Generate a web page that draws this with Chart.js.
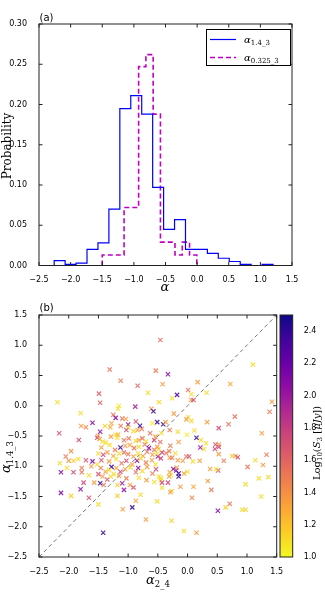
<!DOCTYPE html>
<html>
<head>
<meta charset="utf-8">
<script src="https://cdn.jsdelivr.net/npm/chart.js@4.4.1/dist/chart.umd.min.js"></script>
<style>
  html, body { margin: 0; padding: 0; background: #fff; }
  #wrap { position: relative; width: 325px; height: 600px; overflow: hidden; }
  canvas { position: absolute; }
</style>
</head>
<body>
<div id="wrap">
  <canvas id="histChart" width="325" height="300" style="left:0;top:0"></canvas>
  <canvas id="scatChart" width="325" height="300" style="left:0;top:300px"></canvas>
  <canvas id="cbarChart" width="55" height="300" style="left:270px;top:300px"></canvas>
</div>
<script>
// (a) histograms: bin edges and probability per bin
const edges14 = [-2.26, -2.087, -1.914, -1.741, -1.568, -1.395, -1.222, -1.049, -0.876, -0.703, -0.53,
                 -0.357, -0.184, -0.011, 0.162, 0.335, 0.508, 0.681, 0.854, 1.027, 1.2];
const prob14 = [0.006, 0.0015, 0.003, 0.020, 0.028, 0.070, 0.195, 0.211, 0.188, 0.097,
                0.045, 0.057, 0.020, 0.020, 0.015, 0.009, 0.005, 0.0015, 0, 0.0015];
const edges0325 = [-1.5, -1.385, -1.27, -1.155, -1.04, -0.925, -0.81, -0.695, -0.58, -0.465, -0.35, -0.235, -0.12, -0.005];
const prob0325 = [0.013, 0.013, 0.013, 0.072, 0.072, 0.247, 0.262, 0.188, 0.029, 0.029, 0.013, 0.029, 0.013];
const alphaTicks = [-2.5, -2.0, -1.5, -1.0, -0.5, 0.0, 0.5, 1.0, 1.5];
const probTicks = [0, 0.05, 0.10, 0.15, 0.20, 0.25, 0.30];

// (b) scatter: alpha_2_4 (x), alpha_1.4_3 (y), log10 S3 (colour)
const alpha24 = [
  -1.31, -1.125, -0.535, -0.84, -1.49, -1.47, -0.665, -2.19, -1.80, -1.155, -1.17, -0.88, -1.25, -1.21,
  -1.10, -1.04, -0.61, -0.575, -0.48, -1.60, -1.79, -1.71, -1.39, -1.28, -1.30, -1.125, -1.0, -1.0,
  -0.87, -0.80, -0.77, -0.84, -0.91, -0.59, -0.51, -0.63, -2.16, -1.47, -1.21, -1.17, -1.51, -1.03,
  -0.458, -0.33, -0.42, 0.17, 0.01, 1.10, 0.72, 0.32, 0.064, -0.177, -0.26, 0.06, 0.10, 1.42, 1.38,
  -0.23, 0.01, -0.02, 0.064, 0.795, 0.33, 0.69, 0.525, -0.41, -0.37, -0.30, -0.165, -0.01, 0.115, -0.44, 1.25,
  0.15, -0.15, -0.29, -0.46, 0.225, 0.31, 0.215, 0.28, 0.47, 0.525,
  0.525, 0.46, 0.525, -0.205, -0.31, -0.36, -0.43, -0.485, -0.50, -0.45,
  -0.30, -0.26, -0.165, -0.08, -0.02, 0.025, 0.09, 0.205, 0.61, 0.75,
  0.805, 0.845, 1.14, 1.33, 1.27, 1.01, 0.38, 0.515, 0.48, -0.24,
  -0.19, -0.15, -0.15, -0.18, -0.06, 0.0, -0.30, -0.28, -0.31, -0.45,
  -0.45, -0.485, -0.43, -0.33, -0.43, -0.27, -0.29, -0.12, 0.10, 0.34,
  0.40, 0.975, 1.20, 1.36, 0.075, 0.71, 0.64, 0.51, 0.92, 0.975,
  1.24, -0.27, -0.06, 0.15, -0.51,
  -1.42, -1.18, -1.09, -0.93, -0.79, -0.87, -1.07, -0.70,
  -1.83, -1.96, -2.15, -2.13, -2.05, -2.0, -1.92, -2.03, -1.92, -1.78,
  -1.84, -1.71, -1.60, -1.62, -1.78, -1.75, -1.80, -1.66, -2.13, -1.96,
  -1.66, -1.57, -1.50,
  -1.52, -1.48, -1.43, -1.38, -1.29, -1.18, -1.07, -0.99, -0.87, -0.82, -0.76, -0.70, -0.56, -0.54,
  -1.45, -1.31, -1.22, -1.13, -1.05, -0.97, -0.90, -0.82, -0.72, -0.65, -0.56, -0.51,
  -1.50, -1.42, -1.35, -1.25, -1.15, -1.07, -1.00, -0.91, -0.83, -0.75, -0.68, -0.59, -0.51,
  -1.52, -1.45, -1.32, -1.28, -1.20, -1.11, -1.03, -0.93, -0.85, -0.79, -0.70, -0.60, -0.54,
  -1.46, -1.38, -1.32, -1.20, -1.13, -1.05, -0.96, -0.87, -0.83, -0.76, -0.68, -0.59, -0.53, -1.50, -1.24,
  -1.47, -1.35, -1.43, -1.29, -1.15, -1.03, -1.10, -0.97, -0.82, -0.69, -0.56, -1.18, -0.91, -1.41
];
const alpha143 = [
  0.60, 0.414, 0.58, 0.33, 0.20, 0.05, 0.216, 0.057, -0.125, 0.0, -0.05, -0.015, -0.15, -0.2,
  -0.21, -0.22, -0.05, -0.09, 0.06, -0.28, -0.335, -0.355, -0.335, -0.29, -0.355, -0.335, -0.31, -0.36,
  -0.26, -0.33, -0.385, -0.40, -0.42, -0.29, -0.27, -0.455, -0.455, -0.43, -0.48, -0.48, -0.495, -0.40,
  1.087, 0.52, 0.355, 0.39, 0.26, 0.68, 0.36, 0.216, 0.19, 0.18, 0.125, 0.095, 0.095, 0.067, -0.10,
  -0.13, -0.19, -0.225, -0.25, -0.18, -0.27, -0.305, -0.37, -0.305, -0.27, -0.40, -0.43, -0.48, -0.41, -0.455, -0.455,
  -0.53, -0.60, -0.66, -0.60, -0.566, -0.62, -0.69, -0.715, -0.64, -0.64,
  -0.68, -0.715, -0.80, -0.785, -0.75, -0.785, -0.77, -0.715, -0.84, -0.87,
  -0.86, -0.86, -0.90, -0.91, -0.84, -0.84, -0.92, -0.91, -0.91, -0.83,
  -0.83, -0.85, -0.90, -0.81, -0.98, -1.01, -1.045, -1.07, -1.05, -1.045,
  -1.07, -1.12, -1.17, -1.02, -1.12, -1.09, -1.10, -1.145, -1.17, -1.19,
  -1.23, -1.17, -1.27, -1.27, -1.355, -1.41, -1.43, -1.34, -1.34, -1.245,
  -1.39, -1.30, -1.20, -1.18, -1.52, -1.62, -1.68, -1.735, -1.72, -1.72,
  -1.50, -1.90, -2.07, -2.10, -1.58,
  -2.10, -1.49, -1.71, -1.68, -1.47, -1.57, -1.39, -1.88,
  -0.566, -0.75, -0.95, -1.10, -0.84, -0.91, -0.91, -1.03, -1.10, -1.10,
  -0.88, -0.90, -0.92, -1.0, -1.03, -1.27, -1.38, -1.52, -1.44, -1.49,
  -1.15, -1.27, -1.63,
  -0.53, -0.55, -0.59, -0.61, -0.51, -0.53, -0.57, -0.54, -0.58, -0.57, -0.54, -0.59, -0.57, -0.51,
  -0.69, -0.65, -0.73, -0.69, -0.66, -0.65, -0.70, -0.68, -0.64, -0.70, -0.73, -0.68,
  -0.79, -0.81, -0.77, -0.83, -0.79, -0.77, -0.80, -0.84, -0.79, -0.83, -0.76, -0.81, -0.79,
  -0.97, -0.90, -0.92, -1.01, -0.88, -0.95, -0.91, -0.97, -0.91, -0.87, -0.94, -0.90, -0.97,
  -1.03, -1.09, -1.06, -1.03, -1.09, -1.05, -1.02, -1.10, -1.03, -1.08, -1.01, -1.12, -1.05, -1.13, -1.13,
  -1.28, -1.22, -1.17, -1.17, -1.16, -1.20, -1.28, -1.31, -1.19, -1.23, -1.26, -1.31, -1.35, -1.31
];
const logS3 = [
  1.55, 1.5, 1.5, 1.6, 1.65, 1.6, 1.1, 1.1, 1.1, 1.05, 1.1, 1.95, 1.5, 2.1,
  1.55, 1.35, 1.4, 2.4, 1.1, 2.1, 1.35, 1.45, 1.15, 1.3, 1.3, 1.5, 2.0, 1.1,
  1.7, 2.4, 1.5, 1.35, 1.1, 1.05, 2.4, 1.55, 1.7, 2.05, 1.1, 1.3, 1.35, 1.7,
  1.55, 2.1, 1.35, 1.35, 1.55, 1.1, 1.3, 1.1, 1.1, 2.3, 1.1, 1.35, 1.7, 1.35, 1.5,
  1.35, 1.1, 1.35, 1.1, 1.55, 1.35, 1.55, 1.75, 2.4, 1.35, 1.5, 1.1, 1.05, 1.1, 1.1, 1.35,
  2.4, 1.35, 1.5, 1.55, 1.1, 1.1, 2.0, 1.1, 1.7, 1.35,
  1.7, 1.75, 1.35, 1.1, 1.5, 1.5, 1.75, 1.1, 2.0, 1.75,
  1.35, 1.5, 1.35, 1.35, 1.55, 1.7, 1.1, 1.35, 1.5, 1.15,
  1.35, 1.7, 1.1, 1.5, 1.35, 1.5, 1.35, 1.7, 1.1, 2.1,
  2.1, 2.4, 2.4, 1.35, 1.35, 1.1, 1.35, 1.1, 1.35, 1.1,
  1.1, 1.1, 1.75, 1.75, 1.1, 1.15, 1.35, 1.35, 1.3, 1.35,
  1.5, 1.1, 1.1, 1.1, 1.45, 1.55, 1.15, 2.1, 1.1, 1.15,
  1.1, 1.15, 1.1, 1.35, 1.1,
  2.4, 1.15, 1.35, 2.4, 1.1, 1.3, 2.05, 1.35,
  1.75, 1.4, 1.1, 2.1, 1.5, 1.4, 1.15, 1.1, 1.75, 1.55,
  1.1, 1.7, 2.1, 1.35, 1.5, 1.75, 2.1, 1.7, 2.1, 1.15,
  1.1, 1.35, 1.1,
  1.75, 1.35, 1.1, 1.1, 1.35, 1.1, 1.55, 1.5, 1.1, 1.35, 1.55, 1.1, 1.75, 1.35,
  1.35, 1.1, 1.5, 2.4, 1.35, 1.3, 1.55, 1.1, 1.5, 2.1, 1.5, 1.35,
  1.1, 1.75, 1.35, 1.3, 1.1, 1.55, 1.5, 1.35, 1.1, 1.35, 1.55, 1.35, 1.1,
  1.1, 1.7, 1.35, 2.4, 1.1, 1.55, 1.75, 1.35, 2.05, 1.1, 1.5, 1.35, 1.1,
  1.5, 1.35, 1.1, 1.35, 1.75, 1.35, 1.1, 1.55, 2.1, 1.1, 1.35, 1.5, 1.75, 1.7, 1.1,
  2.4, 1.7, 1.35, 1.1, 1.35, 1.5, 2.0, 1.35, 1.1, 1.35, 1.1, 1.15, 1.7, 1.5
];
const diagEnds = [-2.5, 1.5];
const cbRange = [1.0, 2.5];
const cbTicks = [1.0, 1.2, 1.4, 1.6, 1.8, 2.0, 2.2, 2.4];

const plasma = [[13,8,135],[65,4,157],[106,0,168],[143,13,164],[177,42,144],[204,71,120],
                [225,100,98],[242,132,75],[252,166,54],[252,206,37],[240,249,33]];
function cmap(v, a) {
  let t = 1 - (v - cbRange[0]) / (cbRange[1] - cbRange[0]);
  t = Math.min(1, Math.max(0, t)) * 10;
  const i = Math.min(9, Math.floor(t)), f = t - i;
  const c = plasma[i].map((k, j) => Math.round(k + (plasma[i + 1][j] - k) * f));
  return 'rgba(' + c[0] + ',' + c[1] + ',' + c[2] + ',' + a + ')';
}

const TICKFONT = { family: 'DejaVu Sans', size: 8 };
const fmt = d => v => (Math.abs(v) < 1e-9 ? (0).toFixed(d) : v.toFixed(d)).replace('-', '\u2212');
const setTicks = arr => s => { s.ticks = arr.map(v => ({ value: v })); };

function stepPoints(edges, probs) {
  const pts = [{ x: edges[0], y: 0 }];
  probs.forEach((p, i) => pts.push({ x: edges[i + 1], y: p }));
  pts.push({ x: edges[edges.length - 1], y: 0 });
  return pts;
}

// text with sub/superscripts: runs = [text, font, dy]
function drawRuns(ctx, runs, x, y, rot, align) {
  ctx.save();
  ctx.translate(x, y);
  if (rot) ctx.rotate(rot);
  ctx.textAlign = 'left';
  ctx.textBaseline = 'alphabetic';
  ctx.fillStyle = '#000';
  let w = 0;
  runs.forEach(r => { ctx.font = r[1]; w += ctx.measureText(r[0]).width; });
  let cx = align === 'left' ? 0 : -w / 2;
  runs.forEach(r => {
    ctx.font = r[1];
    ctx.fillText(r[0], cx, r[2] || 0);
    cx += ctx.measureText(r[0]).width;
  });
  ctx.restore();
}

// frame + inward ticks like matplotlib classic
function frame(ticks) {
  return {
    id: 'frame',
    afterDatasetsDraw(chart) {
      const { ctx, chartArea: a } = chart;
      ctx.save();
      ctx.strokeStyle = '#222';
      ctx.lineWidth = 1;
      ctx.setLineDash([]);
      ctx.strokeRect(a.left, a.top, a.right - a.left, a.bottom - a.top);
      if (ticks) {
        const xs = chart.scales.x, ys = chart.scales.y, len = 3.5;
        ctx.beginPath();
        xs.ticks.forEach(t => {
          const p = xs.getPixelForValue(t.value);
          ctx.moveTo(p, a.bottom); ctx.lineTo(p, a.bottom - len);
          ctx.moveTo(p, a.top); ctx.lineTo(p, a.top + len);
        });
        ys.ticks.forEach(t => {
          const p = ys.getPixelForValue(t.value);
          ctx.moveTo(a.left, p); ctx.lineTo(a.left + len, p);
          ctx.moveTo(a.right, p); ctx.lineTo(a.right - len, p);
        });
        ctx.stroke();
      }
      ctx.restore();
    }
  };
}

const ALPHA = 'italic 13px "DejaVu Serif"';
const SUB = '8.5px "DejaVu Serif"';

// ---------- (a) histogram ----------
new Chart(document.getElementById('histChart'), {
  type: 'line',
  data: {
    datasets: [{
      label: '1.4_3',
      data: stepPoints(edges14, prob14),
      borderColor: '#0000ff',
      borderWidth: 1.2,
      stepped: 'after',
      pointRadius: 0,
      fill: false
    }, {
      label: '0.325_3',
      data: stepPoints(edges0325, prob0325),
      borderColor: '#bf00bf',
      borderWidth: 1.6,
      borderDash: [5, 3],
      stepped: 'after',
      pointRadius: 0,
      fill: false
    }]
  },
  options: {
    responsive: false,
    animation: false,
    events: [],
    layout: { padding: { left: 0, right: 33, top: 24, bottom: 0 } },
    plugins: { legend: { display: false }, tooltip: { enabled: false } },
    scales: {
      x: {
        type: 'linear', min: -2.5, max: 1.5,
        grid: { display: false }, border: { display: false },
        afterBuildTicks: setTicks(alphaTicks),
        afterFit: s => { s.height = 34.5; },
        ticks: { font: TICKFONT, color: '#000', padding: 2, maxRotation: 0, callback: fmt(1) }
      },
      y: {
        min: 0, max: 0.30,
        grid: { display: false }, border: { display: false },
        afterBuildTicks: setTicks(probTicks),
        afterFit: s => { s.width = 39; },
        ticks: { font: TICKFONT, color: '#000', padding: 4, callback: fmt(2) }
      }
    }
  },
  plugins: [frame(true), {
    id: 'textA',
    afterDraw(chart) {
      const ctx = chart.ctx;
      drawRuns(ctx, [['(a)', '10px "DejaVu Sans"']], 39.5, 20.5, 0, 'left');
      drawRuns(ctx, [['\u03b1', ALPHA]], 165, 290.5);
      drawRuns(ctx, [['Probability', '12px "DejaVu Serif"']], 11, 146, -Math.PI / 2);
      // legend
      ctx.save();
      ctx.fillStyle = '#fff';
      ctx.strokeStyle = '#000';
      ctx.lineWidth = 1;
      ctx.fillRect(206, 29, 84.5, 36.5);
      ctx.strokeRect(206.5, 29.5, 84, 36);
      chart.data.datasets.forEach((ds, i) => {
        const y = 39.5 + i * 18;
        ctx.beginPath();
        ctx.strokeStyle = ds.borderColor;
        ctx.lineWidth = ds.borderWidth;
        ctx.setLineDash(ds.borderDash || []);
        ctx.moveTo(210, y);
        ctx.lineTo(236, y);
        ctx.stroke();
        ctx.setLineDash([]);
        drawRuns(ctx, [['\u03b1', 'italic 10px "DejaVu Serif"'], [ds.label, '7px "DejaVu Serif"', 2.5]], 244, y + 3, 0, 'left');
      });
      ctx.restore();
    }
  }]
});

// ---------- (b) scatter ----------
new Chart(document.getElementById('scatChart'), {
  type: 'scatter',
  data: {
    datasets: [{
      type: 'line',
      data: diagEnds.map(v => ({ x: v, y: v })),
      borderColor: '#555',
      borderWidth: 0.8,
      borderDash: [4, 3],
      pointRadius: 0,
      fill: false,
      order: 2
    }, {
      data: alpha24.map((x, i) => ({ x: x, y: alpha143[i] })),
      pointStyle: 'crossRot',
      pointRadius: 3,
      pointBorderWidth: 1.2,
      pointBorderColor: logS3.map(v => cmap(v, 0.85)),
      pointBackgroundColor: logS3.map(v => cmap(v, 0.85)),
      order: 1
    }]
  },
  options: {
    responsive: false,
    animation: false,
    events: [],
    layout: { padding: { left: 0, right: 48.3, top: 15, bottom: 0 } },
    plugins: { legend: { display: false }, tooltip: { enabled: false } },
    scales: {
      x: {
        type: 'linear', min: -2.5, max: 1.5,
        grid: { display: false }, border: { display: false },
        afterBuildTicks: setTicks(alphaTicks),
        afterFit: s => { s.height = 43; },
        ticks: { font: TICKFONT, color: '#000', padding: 2, maxRotation: 0, callback: fmt(1) }
      },
      y: {
        type: 'linear', min: -2.5, max: 1.5,
        grid: { display: false }, border: { display: false },
        afterBuildTicks: setTicks(alphaTicks),
        afterFit: s => { s.width = 39; },
        ticks: { font: TICKFONT, color: '#000', padding: 4, callback: fmt(1) }
      }
    }
  },
  plugins: [frame(true), {
    id: 'textB',
    afterDraw(chart) {
      const ctx = chart.ctx;
      drawRuns(ctx, [['(b)', '10px "DejaVu Sans"']], 39.5, 11, 0, 'left');
      drawRuns(ctx, [['\u03b1', ALPHA], ['2_4', SUB, 3]], 158, 283.5);
      drawRuns(ctx, [['\u03b1', ALPHA], ['1.4_3', SUB, 3]], 9.5, 157, -Math.PI / 2);
    }
  }]
});

// ---------- colour bar ----------
new Chart(document.getElementById('cbarChart'), {
  type: 'bar',
  data: {
    labels: ['S3'],
    datasets: [{
      data: [cbRange],
      backgroundColor: c => {
        const a = c.chart.chartArea;
        if (!a) return null;
        const g = c.chart.ctx.createLinearGradient(0, a.bottom, 0, a.top);
        plasma.forEach((p, i) => g.addColorStop(i / 10, 'rgb(' + plasma[10 - i].join(',') + ')'));
        return g;
      },
      borderWidth: 0,
      barPercentage: 1,
      categoryPercentage: 1
    }]
  },
  options: {
    responsive: false,
    animation: false,
    events: [],
    layout: { padding: { left: 10, right: 0, top: 15, bottom: 43 } },
    plugins: { legend: { display: false }, tooltip: { enabled: false } },
    scales: {
      x: { display: false },
      y: {
        position: 'right', min: cbRange[0], max: cbRange[1],
        grid: { display: false }, border: { display: false },
        afterBuildTicks: setTicks(cbTicks),
        afterFit: s => { s.width = 32.3; },
        ticks: { font: TICKFONT, color: '#000', padding: 3, callback: fmt(1) }
      }
    }
  },
  plugins: [frame(false), {
    id: 'textCb',
    afterDraw(chart) {
      const R = '10px "DejaVu Serif"', I = 'italic 10px "DejaVu Serif"', S = '7px "DejaVu Serif"';
      drawRuns(chart.ctx, [['Log', R], ['10', S, 2.5], ['(', R], ['S', I], ['3', S, 2.5],
        [' [', R], ['\u03bcJy', I], ['])', R]], 49.5, 143, -Math.PI / 2);
    }
  }]
});
</script>
</body>
</html>
